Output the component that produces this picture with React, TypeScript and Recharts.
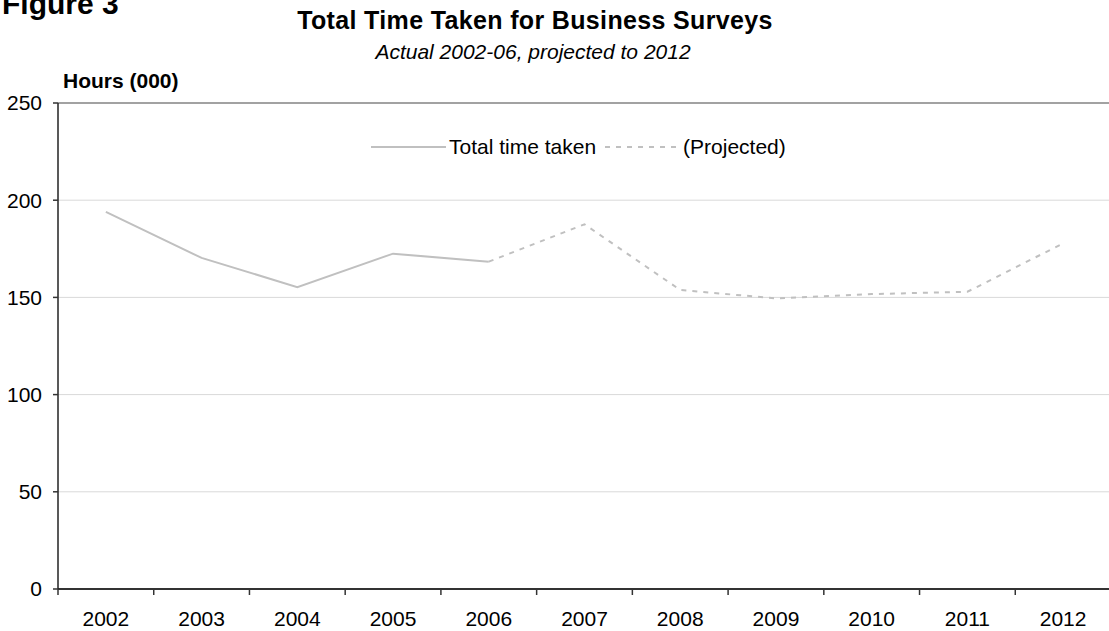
import React from 'react';
import { LineChart, Line, XAxis, YAxis, CartesianGrid, Legend, ReferenceLine } from 'recharts';

const years = [2002, 2003, 2004, 2005, 2006, 2007, 2008, 2009, 2010, 2011, 2012];
const actualHours = [194, 170.3, 155.3, 172.5, 168.4, null, null, null, null, null, null];
const projectedHours = [null, null, null, null, 168.4, 187.6, 153.8, 149.5, 151.7, 152.9, 177.8];
const yTicks = [0, 50, 100, 150, 200, 250];
const seriesNames = ['Total time taken', '(Projected)'];

const data = years.map((year, i) => ({ year, actual: actualHours[i], projected: projectedHours[i] }));
const boundaryTicks = years.map((y) => y - 0.5);
const xDomain = [years[0] - 0.5, years[years.length - 1] + 0.5];

const FONT = '"Liberation Sans", Arial, sans-serif';
const LINE_COLOR = '#c0c0c0';

const LegendContent = (props: any) => {
  const payload = [...(props.payload || [])].sort(
    (a: any, b: any) => seriesNames.indexOf(a.value) - seriesNames.indexOf(b.value)
  );
  return (
    <div style={{ display: 'flex', alignItems: 'center', fontFamily: FONT, fontSize: 21, color: '#000', lineHeight: '24px', whiteSpace: 'nowrap' }}>
      {payload.map((entry: any, i: number) => (
        <div key={i} style={{ display: 'flex', alignItems: 'center', marginRight: 9 }}>
          <svg width={75} height={24} style={{ marginRight: 3 }}>
            <line x1={0} y1={12} x2={75} y2={12} stroke={entry.color} strokeWidth={2}
              strokeDasharray={entry.payload && entry.payload.strokeDasharray ? entry.payload.strokeDasharray : undefined} />
          </svg>
          <span>{entry.value}</span>
        </div>
      ))}
    </div>
  );
};

export default function App() {
  return (
    <div style={{ position: 'absolute', left: 0, top: 0, width: 1109, height: 631, overflow: 'hidden', background: '#fff' }}>
      <LineChart width={1115} height={631} data={data} margin={{ top: 103, right: 4, bottom: 0, left: 0 }}>
        <CartesianGrid horizontal vertical={false} stroke="#d9d9d9" xAxisId="lab" />
        <XAxis xAxisId="bnd" dataKey="year" type="number" domain={xDomain} ticks={boundaryTicks} allowDataOverflow
          height={1} tickSize={6} tickLine={{ stroke: '#333', strokeWidth: 1.5 }} axisLine={{ stroke: '#333', strokeWidth: 2 }}
          tickFormatter={() => ''} />
        <XAxis xAxisId="lab" dataKey="year" type="number" domain={xDomain} ticks={years} allowDataOverflow
          height={41} tickSize={0} tickMargin={21} tickLine={false} axisLine={false}
          tick={{ fontSize: 21, fill: '#000', fontFamily: FONT }} interval={0} />
        <YAxis domain={[0, 250]} ticks={yTicks} width={58} tickSize={5} tickMargin={11}
          tickLine={{ stroke: '#333', strokeWidth: 1.5 }} axisLine={{ stroke: '#222', strokeWidth: 1.5 }}
          tick={{ fontSize: 21, fill: '#000', fontFamily: FONT }} interval={0} />
        <ReferenceLine y={250} xAxisId="lab" stroke="#8a8a8a" strokeWidth={1.5} />
        <Legend layout="horizontal" verticalAlign="middle" align="center" content={<LegendContent />}
          wrapperStyle={{ position: 'absolute', top: 135, left: 371, width: 'auto' }} />
        <Line xAxisId="lab" dataKey="actual" name={seriesNames[0]} stroke={LINE_COLOR} strokeWidth={2} dot={false}
          activeDot={false} isAnimationActive={false} connectNulls={false} />
        <Line xAxisId="lab" dataKey="projected" name={seriesNames[1]} stroke={LINE_COLOR} strokeWidth={2} strokeDasharray="5 6"
          dot={false} activeDot={false} isAnimationActive={false} connectNulls={false} />
      </LineChart>
      <svg width={1109} height={631} style={{ position: 'absolute', left: 0, top: 0, pointerEvents: 'none' }}>
        <text x={2} y={14} fontFamily={FONT} fontWeight="bold" fontSize={30} fill="#000">Figure 3</text>
        <text x={535} y={29} textAnchor="middle" fontFamily={FONT} fontWeight="bold" fontSize={25} letterSpacing={0.35} fill="#000">Total Time Taken for Business Surveys</text>
        <text x={533} y={59} textAnchor="middle" fontFamily={FONT} fontStyle="italic" fontSize={21} fill="#000">Actual 2002-06, projected to 2012</text>
        <text x={63} y={88} fontFamily={FONT} fontWeight="bold" fontSize={21} fill="#000">Hours (000)</text>
      </svg>
    </div>
  );
}
